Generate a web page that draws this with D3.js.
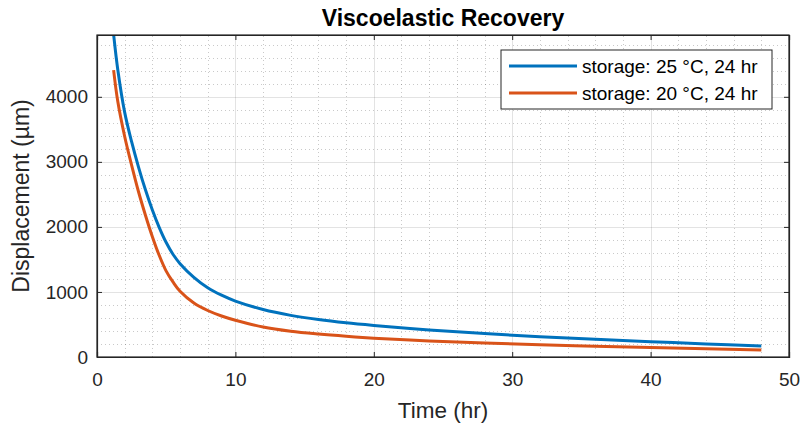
<!DOCTYPE html>
<meta charset="utf-8">
<html>
<head>
<style>
  html, body { margin: 0; padding: 0; background: #fff; }
  svg { display: block; font-family: "Liberation Sans", Arial, sans-serif; }
  .grid-major line { stroke: #262626; stroke-opacity: 0.13; stroke-width: 1; }
  .grid-minor line { stroke: #262626; stroke-opacity: 0.25; stroke-width: 1; stroke-dasharray: 1 3; }
  .axis path, .axis line { stroke: #262626; }
  .axis text { fill: #262626; font-size: 19px; }
  .curve { fill: none; stroke-width: 3; }
</style>
</head>
<body>
<svg width="802" height="428"></svg>
<script src="https://cdn.jsdelivr.net/npm/d3@7"></script>
<script>
// time (hr)
var time = [1.2, 1.5, 2, 2.5, 3, 3.5, 4, 4.5, 5, 5.5, 6, 7, 8, 9, 10,
            12, 14, 16, 18, 20, 24, 28, 32, 36, 40, 44, 48];
// storage: 25 °C, 24 hr
var disp25 = [4960, 4420, 3760, 3310, 2920, 2570, 2260, 1990, 1760, 1575, 1435, 1225, 1065, 950, 860,
              730, 640, 575, 525, 485, 415, 360, 312, 272, 236, 200, 168];
// storage: 20 °C, 24 hr
var disp20 = [4410, 3930, 3390, 2950, 2540, 2180, 1850, 1560, 1320, 1150, 1010, 830, 715, 630, 565,
              460, 395, 352, 318, 290, 246, 215, 188, 166, 146, 126, 108];
var seriesNames = ["storage: 25 \u00B0C, 24 hr", "storage: 20 \u00B0C, 24 hr"];
var seriesColors = ["#0072BD", "#D95319"];
var xTicks = [0, 10, 20, 30, 40, 50];
var yTicks = [0, 1000, 2000, 3000, 4000];

var svg = d3.select("svg");
var margin = {left: 97, right: 13, top: 35, bottom: 71};
var W = 802, H = 428;

var x = d3.scaleLinear().domain([0, 50]).range([margin.left, W - margin.right]);
var y = d3.scaleLinear().domain([0, 4950]).range([H - margin.bottom, margin.top]);

var x0 = margin.left, x1 = W - margin.right, y0 = H - margin.bottom, y1 = margin.top;

// minor grid
var xMinor = d3.range(0, 50.01, 2).filter(function (d) { return d % 10 !== 0; });
var yMinor = d3.range(0, 4950, 200).filter(function (d) { return d % 1000 !== 0; });
var gm = svg.append("g").attr("class", "grid-minor");
gm.selectAll(".vx").data(xMinor).enter().append("line")
    .attr("x1", function (d) { return Math.round(x(d)) + 0.5; })
    .attr("x2", function (d) { return Math.round(x(d)) + 0.5; })
    .attr("y1", y0).attr("y2", y1);
gm.selectAll(".hy").data(yMinor).enter().append("line")
    .attr("y1", function (d) { return Math.round(y(d)) + 0.5; })
    .attr("y2", function (d) { return Math.round(y(d)) + 0.5; })
    .attr("x1", x0).attr("x2", x1);

// major grid
var gM = svg.append("g").attr("class", "grid-major");
gM.selectAll(".vx").data(xTicks.slice(1, -1)).enter().append("line")
    .attr("x1", function (d) { return Math.round(x(d)) + 0.5; })
    .attr("x2", function (d) { return Math.round(x(d)) + 0.5; })
    .attr("y1", y0).attr("y2", y1);
gM.selectAll(".hy").data(yTicks.slice(1)).enter().append("line")
    .attr("y1", function (d) { return Math.round(y(d)) + 0.5; })
    .attr("y2", function (d) { return Math.round(y(d)) + 0.5; })
    .attr("x1", x0).attr("x2", x1);

// curves
svg.append("clipPath").attr("id", "clip")
  .append("rect").attr("x", x0).attr("y", y1).attr("width", x1 - x0).attr("height", y0 - y1);

var line = d3.line()
    .x(function (d) { return x(d[0]); })
    .y(function (d) { return y(d[1]); })
    .curve(d3.curveCatmullRom.alpha(0.5));

var series = [disp25, disp20].map(function (vals, i) {
  return {name: seriesNames[i], color: seriesColors[i], pts: time.map(function (t, j) { return [t, vals[j]]; })};
});

svg.append("g").attr("clip-path", "url(#clip)")
  .selectAll("path").data(series).enter().append("path")
    .attr("class", "curve")
    .attr("stroke", function (d) { return d.color; })
    .attr("d", function (d) { return line(d.pts); });

// axes (box on, ticks inward)
svg.append("g").attr("class", "axis").attr("transform", "translate(0," + y0 + ")")
    .call(d3.axisBottom(x).tickValues(xTicks).tickSize(-5).tickPadding(16).tickFormat(d3.format("d")));
svg.append("g").attr("class", "axis").attr("transform", "translate(0," + y1 + ")")
    .call(d3.axisTop(x).tickValues(xTicks).tickSize(-5).tickFormat(""));
svg.append("g").attr("class", "axis").attr("transform", "translate(" + x0 + ",0)")
    .call(d3.axisLeft(y).tickValues(yTicks).tickSize(-5).tickPadding(9).tickFormat(d3.format("d")));
svg.append("g").attr("class", "axis").attr("transform", "translate(" + x1 + ",0)")
    .call(d3.axisRight(y).tickValues(yTicks).tickSize(-5).tickFormat(""));
svg.selectAll(".axis .domain").attr("stroke-width", 1.2);
svg.selectAll(".axis text").attr("font-family", "'Liberation Sans', Arial, sans-serif");
svg.append("rect").attr("x", x0).attr("y", y1).attr("width", x1 - x0).attr("height", y0 - y1)
    .attr("fill", "none").attr("stroke", "#262626").attr("stroke-width", 1.2);

// labels
svg.append("text").attr("x", (x0 + x1) / 2).attr("y", 26).attr("text-anchor", "middle")
    .attr("font-size", 23).attr("font-weight", "bold").attr("fill", "#000")
    .text("Viscoelastic Recovery");
svg.append("text").attr("x", (x0 + x1) / 2).attr("y", 418).attr("text-anchor", "middle")
    .attr("font-size", 22.5).attr("fill", "#262626").text("Time (hr)");
svg.append("text").attr("transform", "translate(29," + ((y0 + y1) / 2) + ") rotate(-90)")
    .attr("text-anchor", "middle").attr("font-size", 23).attr("fill", "#262626")
    .text("Displacement (\u00B5m)");

// legend
var leg = svg.append("g").attr("transform", "translate(501,50)");
leg.append("rect").attr("width", 271).attr("height", 59)
    .attr("fill", "#fff").attr("stroke", "#262626").attr("stroke-width", 1);
var items = leg.selectAll(".item").data(series).enter().append("g")
    .attr("transform", function (d, i) { return "translate(0," + (16 + i * 27) + ")"; });
items.append("line").attr("x1", 8).attr("x2", 76).attr("y1", 0).attr("y2", 0)
    .attr("stroke", function (d) { return d.color; }).attr("stroke-width", 3);
items.append("text").attr("x", 81).attr("y", 7).attr("font-size", 19).attr("fill", "#000")
    .text(function (d) { return d.name; });
</script>
</body>
</html>
